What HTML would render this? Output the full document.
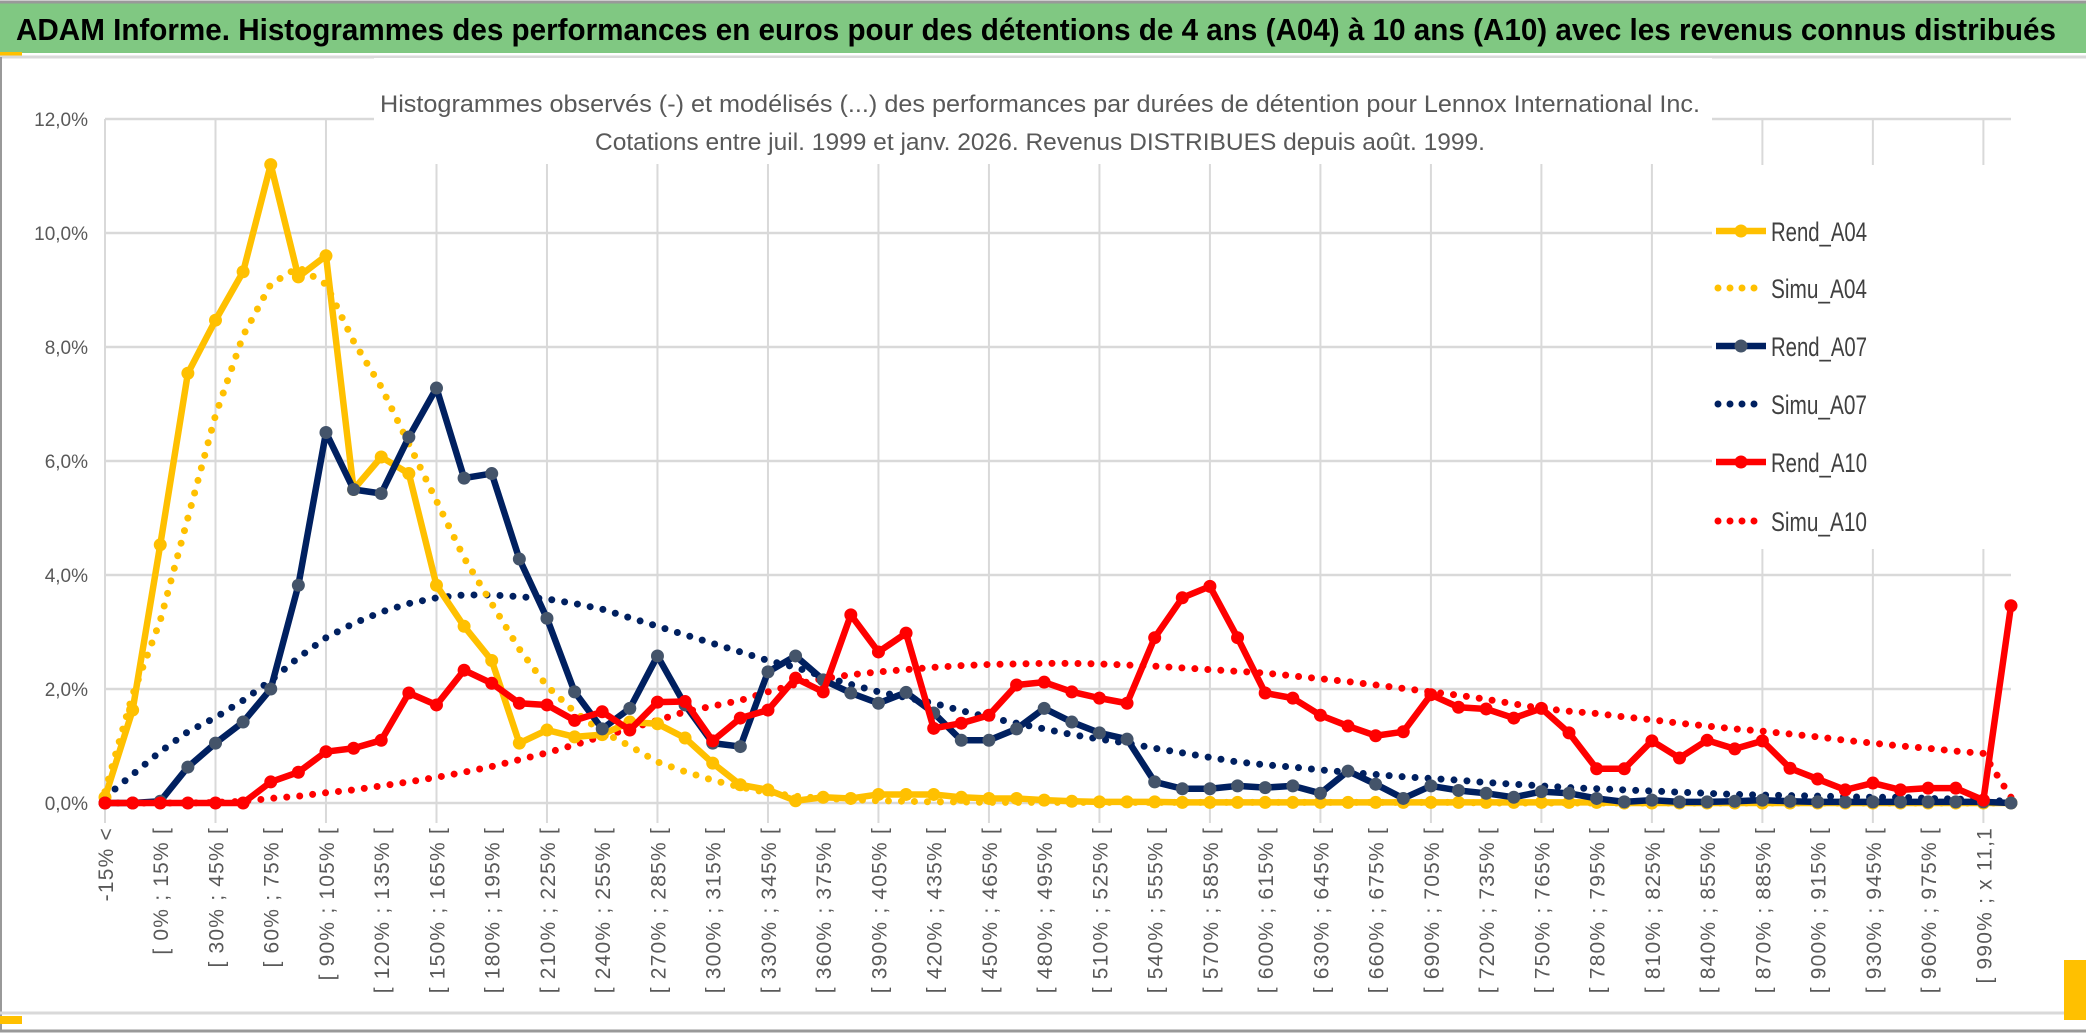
<!DOCTYPE html>
<html><head><meta charset="utf-8"><style>
html,body{margin:0;padding:0;background:#fff;}
svg{display:block;font-family:"Liberation Sans",sans-serif;}
</style></head><body>
<svg id="chart" width="2086" height="1033" viewBox="0 0 2086 1033" xmlns="http://www.w3.org/2000/svg">
<rect x="0" y="0" width="2086" height="1033" fill="#fff"/>
<rect x="0" y="3" width="2086" height="50" fill="#80c882"/>
<line x1="0" y1="2" x2="2086" y2="2" stroke="#999" stroke-width="3"/>
<rect x="0" y="52" width="22" height="4" fill="#ffc000"/>
<line x1="0" y1="57" x2="2086" y2="57" stroke="#d9d9d9" stroke-width="3"/>
<text x="16" y="40" font-size="31" font-weight="bold" fill="#000" textLength="2040" lengthAdjust="spacingAndGlyphs">ADAM Informe. Histogrammes des performances en euros pour des détentions de 4 ans (A04) à 10 ans (A10) avec les revenus connus distribués</text>
<line x1="1" y1="57" x2="1" y2="1030" stroke="#999" stroke-width="2"/>
<line x1="0" y1="1013" x2="2086" y2="1013" stroke="#d9d9d9" stroke-width="3"/>
<line x1="0" y1="1031" x2="2086" y2="1031" stroke="#999" stroke-width="3"/>
<rect x="2064" y="960" width="22" height="60" fill="#ffc000"/>
<rect x="0" y="1016" width="22" height="8" fill="#ffc000"/>
<g id="grid"></g>
<rect x="374" y="58" width="1338" height="106" fill="#fff"/>
<rect x="1712" y="165" width="372" height="384" fill="#fff"/>
<text x="1040" y="112" font-size="24" fill="#595959" text-anchor="middle" textLength="1320" lengthAdjust="spacingAndGlyphs">Histogrammes observés (-) et modélisés (...) des performances par durées de détention pour Lennox International Inc.</text>
<text x="1040" y="150" font-size="24" fill="#595959" text-anchor="middle" textLength="890" lengthAdjust="spacingAndGlyphs">Cotations entre juil. 1999 et janv. 2026. Revenus DISTRIBUES depuis août. 1999.</text>
<g id="axes"></g>
<g id="series"></g>
<g id="legend"></g>
</svg>
<script>
const rendA04=[0.1,1.63,4.53,7.54,8.47,9.32,11.2,9.23,9.6,5.5,6.07,5.78,3.82,3.1,2.5,1.05,1.28,1.16,1.2,1.42,1.39,1.14,0.7,0.32,0.23,0.04,0.1,0.08,0.15,0.15,0.15,0.1,0.08,0.08,0.05,0.03,0.02,0.02,0.02,0.01,0.01,0.01,0.01,0.01,0.01,0.01,0.01,0.01,0.01,0.01,0.01,0.01,0.01,0.01,0.01,0,0,0,0,0,0,0,0,0,0,0,0,0,0,0];
const simuA04=[0.2,1.9,3.2,5.0,6.8,8.2,9.1,9.4,9.1,8.1,7.3,6.3,5.3,4.3,3.5,2.7,2.05,1.6,1.25,1.0,0.72,0.55,0.4,0.28,0.18,0.12,0.08,0.06,0.04,0.03,0.02,0.02,0.01,0.01,0.01,0.01,0.01,0.01,0.01,0.01,0.01,0.01,0.01,0.01,0.01,0.01,0.01,0.01,0.01,0.01,0,0,0,0,0,0,0,0,0,0,0,0,0,0,0,0,0,0,0,0];
const rendA07=[0,0,0.03,0.63,1.05,1.42,2.0,3.82,6.5,5.5,5.43,6.42,7.28,5.7,5.78,4.28,3.24,1.95,1.3,1.66,2.58,1.72,1.05,0.99,2.3,2.58,2.16,1.93,1.75,1.94,1.58,1.1,1.1,1.3,1.66,1.42,1.23,1.12,0.37,0.25,0.25,0.3,0.27,0.3,0.17,0.56,0.33,0.08,0.3,0.22,0.17,0.1,0.2,0.17,0.08,0.02,0.05,0.02,0.02,0.03,0.05,0.03,0.02,0.02,0.02,0.02,0.02,0.02,0.02,0];
const simuA07=[0.1,0.5,0.9,1.25,1.5,1.8,2.15,2.55,2.9,3.15,3.35,3.5,3.6,3.65,3.65,3.62,3.58,3.5,3.4,3.25,3.1,2.95,2.8,2.65,2.5,2.38,2.22,2.08,1.95,1.85,1.75,1.62,1.5,1.4,1.3,1.2,1.12,1.05,0.96,0.88,0.8,0.72,0.67,0.63,0.58,0.54,0.5,0.46,0.43,0.4,0.36,0.33,0.3,0.27,0.25,0.23,0.21,0.19,0.17,0.15,0.14,0.13,0.12,0.11,0.1,0.1,0.08,0.07,0.05,0.03];
const rendA10=[0,0,0,0,0,0,0.37,0.54,0.9,0.96,1.1,1.93,1.72,2.33,2.1,1.75,1.72,1.45,1.6,1.28,1.77,1.78,1.09,1.49,1.63,2.19,1.95,3.3,2.65,2.98,1.31,1.4,1.54,2.07,2.12,1.95,1.84,1.75,2.9,3.6,3.8,2.9,1.93,1.84,1.54,1.35,1.18,1.25,1.9,1.68,1.65,1.49,1.66,1.23,0.6,0.6,1.09,0.79,1.1,0.95,1.09,0.61,0.42,0.23,0.35,0.23,0.26,0.26,0.05,3.46];
const simuA10=[0,0,0,0,0.01,0.03,0.08,0.12,0.18,0.23,0.3,0.37,0.45,0.54,0.64,0.76,0.88,1.02,1.17,1.3,1.45,1.6,1.7,1.8,1.95,2.08,2.18,2.25,2.3,2.34,2.38,2.41,2.43,2.44,2.45,2.45,2.44,2.42,2.4,2.37,2.34,2.31,2.28,2.23,2.18,2.13,2.07,2.01,1.95,1.89,1.82,1.74,1.66,1.61,1.57,1.51,1.46,1.4,1.35,1.3,1.26,1.21,1.16,1.1,1.05,1.0,0.96,0.91,0.87,0.1];
const yTicks=[0,2,4,6,8,10,12];
const yTickLabels=["0,0%","2,0%","4,0%","6,0%","8,0%","10,0%","12,0%"];
const seriesNames=["Rend_A04","Simu_A04","Rend_A07","Simu_A07","Rend_A10","Simu_A10"];
const categories=[];
for(let i=0;i<70;i++){
  if(i===0)categories.push("-15% <");
  else if(i===1)categories.push("[ -15% ; 0% [");
  else if(i<68){const a=15*(i-2);categories.push("[ "+a+"% ; "+(a+15)+"% [");}
  else if(i===68)categories.push("[ 990% ; x 11,1");
  else categories.push("> x 11,1");
}
const NS="http://www.w3.org/2000/svg";
const X0=105,X1=2011,Y0=803,PX=57;
function xs(i){return X0+(X1-X0)*i/(categories.length-1);}
function ys(v){return Y0-v*PX;}
function mk(tag,attrs,parent){const e=document.createElementNS(NS,tag);for(const k in attrs)e.setAttribute(k,attrs[k]);parent.appendChild(e);return e;}
const grid=document.getElementById('grid');
yTicks.forEach((t,k)=>{
  const l=mk('line',{x1:X0,x2:X1,y1:ys(t),y2:ys(t),stroke:'#d9d9d9','stroke-width':2.5},grid);
  
  
});
for(let i=0;i<categories.length;i+=4){
  const l=mk('line',{x1:xs(i),x2:xs(i),y1:ys(12),y2:Y0+20,stroke:'#d9d9d9','stroke-width':2},grid);
  
  
}
const axes=document.getElementById('axes');
yTicks.forEach((t,k)=>{
  const tx=mk('text',{x:88,y:ys(t)+7,'font-size':19,fill:'#595959','text-anchor':'end'},axes);
  tx.textContent=yTickLabels[k];
  
  
});
for(let i=0;i<categories.length-1;i+=2){
  const x=xs(i)+8,y=827;
  const tx=mk('text',{x:x,y:y,'font-size':21,fill:'#595959','text-anchor':'end','letter-spacing':'1.2',transform:'rotate(-90 '+x+' '+y+')'},axes);
  tx.textContent=categories[i];
  
  
}
const ser=document.getElementById('series');
function drawSim(vals,color,name){
  const p=mk('polyline',{points:vals.map((v,i)=>xs(i)+','+ys(v)).join(' '),fill:'none',stroke:color,'stroke-width':7,'stroke-linecap':'round','stroke-dasharray':'0 13'},ser);
  
  
}
function drawRend(vals,color,mcol,name){
  const p=mk('polyline',{points:vals.map((v,i)=>xs(i)+','+ys(v)).join(' '),fill:'none',stroke:color,'stroke-width':6.5,'stroke-linejoin':'round'},ser);
  
  
  vals.forEach((v,i)=>{
    const c=mk('circle',{cx:xs(i),cy:ys(v),r:6.5,fill:mcol},ser);
    
    
  });
}
drawSim(simuA10,'#ff0000','simu-a10-line');
drawSim(simuA07,'#002060','simu-a07-line');
drawSim(simuA04,'#ffc000','simu-a04-line');
drawRend(rendA04,'#ffc000','#ffc000','rend-a04-line');
drawRend(rendA07,'#002060','#44546a','rend-a07-line');
drawRend(rendA10,'#ff0000','#ff0000','rend-a10-line');
const leg=document.getElementById('legend');
const legColors=['#ffc000','#ffc000','#002060','#002060','#ff0000','#ff0000'];
const legY=[231,288,346,404,462,521];
seriesNames.forEach((n,k)=>{
  const y=legY[k];
  const g=mk('g',{},leg);
  
  
  if(k%2===0){
    mk('line',{x1:1716,x2:1766,y1:y,y2:y,stroke:legColors[k],'stroke-width':6.5},g);
    mk('circle',{cx:1741,cy:y,r:6.5,fill:k===2?'#44546a':legColors[k]},g);
  }else{
    mk('line',{x1:1718,x2:1766,y1:y,y2:y,stroke:legColors[k],'stroke-width':7,'stroke-linecap':'round','stroke-dasharray':'0 12'},g);
  }
  const t=mk('text',{x:1771,y:y+10,'font-size':27,fill:'#404040',textLength:96,lengthAdjust:'spacingAndGlyphs'},g);
  t.textContent=n;
});
</script>
</body></html>
